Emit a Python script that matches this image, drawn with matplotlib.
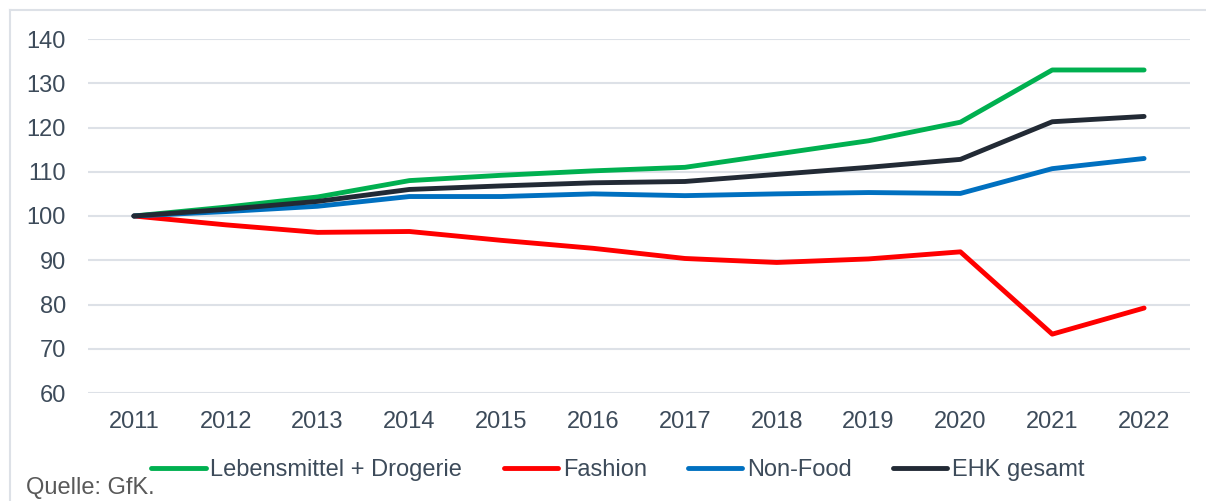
import matplotlib
matplotlib.use('Agg')
import matplotlib.pyplot as plt
from matplotlib.lines import Line2D

# data
years = ['2011', '2012', '2013', '2014', '2015', '2016',
         '2017', '2018', '2019', '2020', '2021', '2022']
lebensmittel = [100, 102.0, 104.3, 108.0, 109.2, 110.2, 111.0, 114.0, 117.0, 121.2, 133.0, 133.0]
fashion = [100, 98.0, 96.3, 96.5, 94.5, 92.7, 90.4, 89.5, 90.3, 91.9, 73.3, 79.2]
non_food = [100, 101.0, 102.2, 104.4, 104.4, 105.0, 104.6, 105.0, 105.3, 105.1, 110.7, 113.0]
ehk_gesamt = [100, 101.5, 103.3, 106.0, 106.8, 107.5, 107.8, 109.4, 111.0, 112.8, 121.3, 122.5]

series = [
    ('Lebensmittel + Drogerie', lebensmittel, '#00b050'),
    ('Fashion', fashion, '#ff0000'),
    ('Non-Food', non_food, '#0070c0'),
    ('EHK gesamt', ehk_gesamt, '#222a35'),
]

plt.rcParams['font.family'] = ['Liberation Sans', 'DejaVu Sans']
txt_col = '#3d4b5a'
fs = 17

fig = plt.figure(figsize=(12.06, 5.01), dpi=100)
ax = fig.add_axes([88 / 1206, 1 - 393 / 501, 1102 / 1206, 354 / 501])

x = list(range(len(years)))
for name, vals, col in series:
    ax.plot(x, vals, color=col, lw=3.5, solid_capstyle='round',
            solid_joinstyle='round', label=name, zorder=3)

ax.set_xlim(-0.5, len(years) - 0.5)
ax.set_ylim(60, 140)
ax.set_yticks(range(60, 141, 10))
ax.set_xticks(x)
ax.set_xticklabels(years)
ax.yaxis.grid(True, color='#dde1e7', lw=1.5, zorder=0)
ax.set_axisbelow(True)
for s in ax.spines.values():
    s.set_visible(False)
ax.tick_params(length=0, labelsize=fs, colors=txt_col)
ax.tick_params(axis='x', pad=13)
ax.tick_params(axis='y', pad=16)

handles = [Line2D([], [], color=c, lw=3.5, solid_capstyle='round') for _, _, c in series]
leg = fig.legend(handles, [s[0] for s in series], loc='center',
                 bbox_to_anchor=(618 / 1206, 1 - 470 / 501), ncol=4,
                 frameon=False, fontsize=fs, handlelength=2.3,
                 handletextpad=0.2, columnspacing=1.75)
for t in leg.get_texts():
    t.set_color(txt_col)

fig.text(26 / 1206, 1 - 494 / 501, 'Quelle: GfK.', fontsize=fs,
         color='#595959', va='baseline', ha='left')

# light frame around the chart
fig.add_artist(Line2D([10 / 1206, 1], [1 - 10 / 501, 1 - 10 / 501],
                      color='#dde1e7', lw=1.5, transform=fig.transFigure))
fig.add_artist(Line2D([10 / 1206, 10 / 1206], [0, 1 - 10 / 501],
                      color='#dde1e7', lw=1.5, transform=fig.transFigure))

fig.savefig('out.png', dpi=100)
